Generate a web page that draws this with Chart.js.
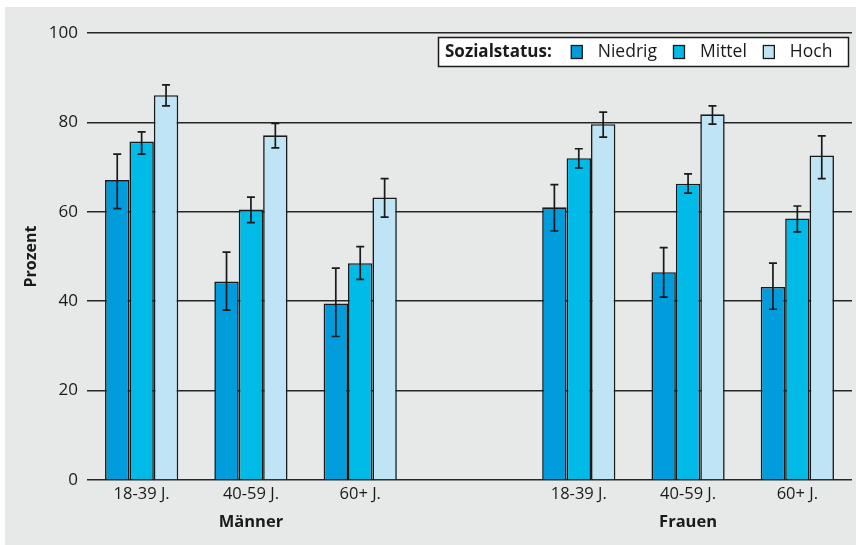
<!DOCTYPE html>
<html lang="de">
<head>
<meta charset="utf-8">
<title>Sozialstatus nach Alter und Geschlecht</title>
<script src="https://cdn.jsdelivr.net/npm/chart.js@4/dist/chart.umd.min.js"></script>
<style>
  html, body { margin: 0; padding: 0; background: #ffffff; }
  #wrap { width: 856px; height: 545px; }
</style>
</head>
<body>
<div id="wrap"><canvas id="chart" width="856" height="545"></canvas></div>
<script>
// Age groups; the empty entry separates men and women
const categories = ['18-39 J.', '40-59 J.', '60+ J.', '', '18-39 J.', '40-59 J.', '60+ J.'];
const groupNames = ['Männer', 'Frauen'];
const seriesNames = ['Niedrig', 'Mittel', 'Hoch'];
const legendTitle = 'Sozialstatus:';
const yTicks = [0, 20, 40, 60, 80, 100];

// Percent values per social status
const niedrig = [67.1, 44.4, 39.5, null, 61.0, 46.5, 43.2];
const mittel  = [75.7, 60.5, 48.5, null, 72.0, 66.3, 58.5];
const hoch    = [86.1, 77.1, 63.2, null, 79.6, 81.8, 72.6];

// Confidence intervals (lower / upper bound)
const niedrigLo = [60.7, 38.0, 32.1, null, 55.7, 40.9, 38.2];
const niedrigHi = [72.9, 51.0, 47.4, null, 66.1, 52.0, 48.5];
const mittelLo  = [72.9, 57.6, 44.9, null, 69.8, 64.2, 55.5];
const mittelHi  = [77.9, 63.3, 52.2, null, 74.1, 68.5, 61.3];
const hochLo    = [83.7, 74.3, 58.8, null, 76.7, 79.6, 67.4];
const hochHi    = [88.4, 79.8, 67.4, null, 82.3, 83.7, 77.0];

const colors = ['#009cdc', '#00bbe8', '#bee4f5'];
const ink = '#1a1a1a';
const FONT = '"Open Sans", "Noto Sans", sans-serif';

const seriesValues = [niedrig, mittel, hoch];
const seriesLo = [niedrigLo, mittelLo, hochLo];
const seriesHi = [niedrigHi, mittelHi, hochHi];

// Centre category of each gender block (blocks are split by the empty label)
function groupCenters() {
  const centers = [];
  let start = 0;
  for (let i = 0; i <= categories.length; i++) {
    if (i === categories.length || categories[i] === '') {
      centers.push((start + i - 1) / 2);
      start = i + 1;
    }
  }
  return centers;
}

const panelPlugin = {
  id: 'panel',
  beforeDraw(chart) {
    const ctx = chart.ctx;
    ctx.save();
    ctx.fillStyle = '#e7e9e8';
    ctx.fillRect(5, 7, chart.width - 5, chart.height - 7);
    ctx.restore();
  }
};

const errorBarPlugin = {
  id: 'errorBars',
  afterDatasetsDraw(chart) {
    const ctx = chart.ctx;
    const y = chart.scales.y;
    ctx.save();
    ctx.strokeStyle = ink;
    ctx.lineWidth = 1.7;
    chart.data.datasets.forEach((ds, di) => {
      const meta = chart.getDatasetMeta(di);
      meta.data.forEach((bar, i) => {
        const lo = seriesLo[di][i], hi = seriesHi[di][i];
        if (lo == null || hi == null) return;
        const x = bar.x;
        const yl = y.getPixelForValue(lo), yh = y.getPixelForValue(hi);
        ctx.beginPath();
        ctx.moveTo(x, yl); ctx.lineTo(x, yh);
        ctx.moveTo(x - 4, yl); ctx.lineTo(x + 4, yl);
        ctx.moveTo(x - 4, yh); ctx.lineTo(x + 4, yh);
        ctx.stroke();
      });
    });
    ctx.restore();
  }
};

const labelsPlugin = {
  id: 'extraLabels',
  afterDraw(chart) {
    const ctx = chart.ctx;
    const area = chart.chartArea;
    const xs = chart.scales.x;
    ctx.save();
    ctx.fillStyle = ink;
    ctx.textAlign = 'center';
    ctx.textBaseline = 'middle';

    // gender block labels below the age groups
    ctx.font = 'bold 16.5px ' + FONT;
    groupCenters().forEach((c, k) => {
      ctx.fillText(groupNames[k], xs.getPixelForValue(c), 522);
    });

    // y axis title
    ctx.save();
    ctx.translate(31, (area.top + area.bottom) / 2);
    ctx.rotate(-Math.PI / 2);
    ctx.font = 'bold 16px ' + FONT;
    ctx.fillText('Prozent', 0, 0);
    ctx.restore();

    // legend box in the upper right corner
    const boxL = 438.5, boxT = 37.5, boxR = area.right - 3.5, boxB = 66.5;
    ctx.fillStyle = '#ffffff';
    ctx.fillRect(boxL, boxT, boxR - boxL, boxB - boxT);
    ctx.strokeStyle = ink;
    ctx.lineWidth = 1.5;
    ctx.strokeRect(boxL, boxT, boxR - boxL, boxB - boxT);

    const cy = (boxT + boxB) / 2;
    ctx.textAlign = 'left';
    ctx.fillStyle = ink;
    ctx.font = 'bold 17px ' + FONT;
    ctx.fillText(legendTitle, 445, cy);
    let x = 445 + ctx.measureText(legendTitle).width + 19;
    ctx.font = '17.5px ' + FONT;
    chart.data.datasets.forEach((ds) => {
      ctx.fillStyle = ds.backgroundColor;
      ctx.fillRect(x + 0.5, cy - 6.5, 11, 13);
      ctx.strokeStyle = ink;
      ctx.lineWidth = 1.3;
      ctx.strokeRect(x + 0.5, cy - 6.5, 11, 13);
      ctx.fillStyle = ink;
      ctx.fillText(ds.label, x + 27, cy);
      x += 27 + ctx.measureText(ds.label).width + 16;
    });
    ctx.restore();
  }
};

new Chart(document.getElementById('chart'), {
  type: 'bar',
  data: {
    labels: categories,
    datasets: seriesNames.map((name, k) => ({
      label: name,
      data: seriesValues[k],
      backgroundColor: colors[k],
      borderColor: ink,
      borderWidth: 1.6,
      barPercentage: 1,
      categoryPercentage: 0.67
    }))
  },
  options: {
    responsive: false,
    animation: false,
    devicePixelRatio: 1,
    layout: { padding: { top: 33, right: 4, left: 0, bottom: 0 } },
    plugins: {
      legend: { display: false },
      tooltip: { enabled: false }
    },
    scales: {
      x: {
        grid: { display: false, drawTicks: false },
        border: { display: false },
        ticks: {
          padding: 4,
          color: ink,
          font: { family: FONT, size: 16.5 },
          maxRotation: 0,
          autoSkip: false
        },
        afterFit(scale) { scale.height = 65; }
      },
      y: {
        min: 0,
        max: 100,
        afterBuildTicks(scale) { scale.ticks = yTicks.map(v => ({ value: v })); },
        grid: { color: '#262626', lineWidth: 1.6, drawTicks: false },
        border: { display: false },
        ticks: {
          padding: 9,
          color: ink,
          font: { family: FONT, size: 17 }
        },
        afterFit(scale) { scale.width = 87; }
      }
    }
  },
  plugins: [panelPlugin, errorBarPlugin, labelsPlugin]
});
</script>
</body>
</html>
